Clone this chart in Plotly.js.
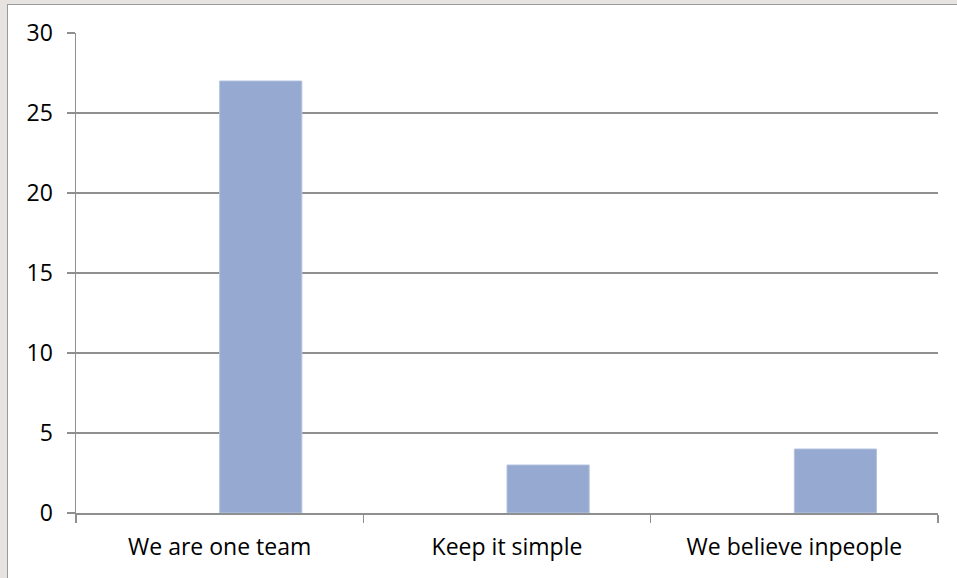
<!DOCTYPE html>
<html>
<head>
<meta charset="utf-8">
<script src="https://cdn.plot.ly/plotly-3.0.1.min.js"></script>
<style>
  html, body { margin: 0; padding: 0; width: 957px; height: 578px; overflow: hidden; background: #e6e3e1; }
  #frame { position: absolute; left: 7px; top: 4px; width: 950px; height: 574px; background: #fff; border-left: 1px solid #9a9a9a; border-top: 1px solid #9a9a9a; }
  #chart { width: 950px; height: 574px; }
</style>
</head>
<body>
<div id="frame"><div id="chart"></div></div>
<script>
const categories = ["We are one team", "Keep it simple", "We believe inpeople"];
const values = [27, 3, 4];
const yTicks = [0, 5, 10, 15, 20, 25, 30];

const gray = '#8f8f8f';
const trace = {
  type: 'bar',
  x: categories,
  y: values,
  width: 0.286,
  offset: 0,
  marker: { color: '#95a9d1', line: { color: '#b4c3e0', width: 1 } },
  hoverinfo: 'x+y'
};

const layout = {
  width: 950, height: 574,
  margin: { l: 68, r: 20, t: 28, b: 66 },
  paper_bgcolor: '#ffffff',
  plot_bgcolor: '#ffffff',
  showlegend: false,
  font: { family: 'Open Sans, Noto Sans, sans-serif', size: 23, color: '#000' },
  xaxis: {
    type: 'category',
    range: [-0.5, 2.5],
    tickson: 'boundaries',
    ticks: 'outside', ticklen: 8, tickwidth: 1.5, tickcolor: gray,
    showline: true, linecolor: gray, linewidth: 1.5,
    showgrid: false, zeroline: false,
    tickfont: { size: 23 },
    ticklabelstandoff: 13
  },
  yaxis: {
    range: [0, 30],
    tickvals: yTicks,
    ticks: 'outside', ticklen: 8, tickwidth: 1.5, tickcolor: gray,
    showline: true, linecolor: gray, linewidth: 1.5,
    showgrid: true, gridcolor: gray, gridwidth: 1.5,
    zeroline: false,
    tickfont: { size: 23 },
    ticklabelstandoff: 9
  }
};

Plotly.newPlot('chart', [trace], layout, { displayModeBar: false, staticPlot: true });
</script>
</body>
</html>
